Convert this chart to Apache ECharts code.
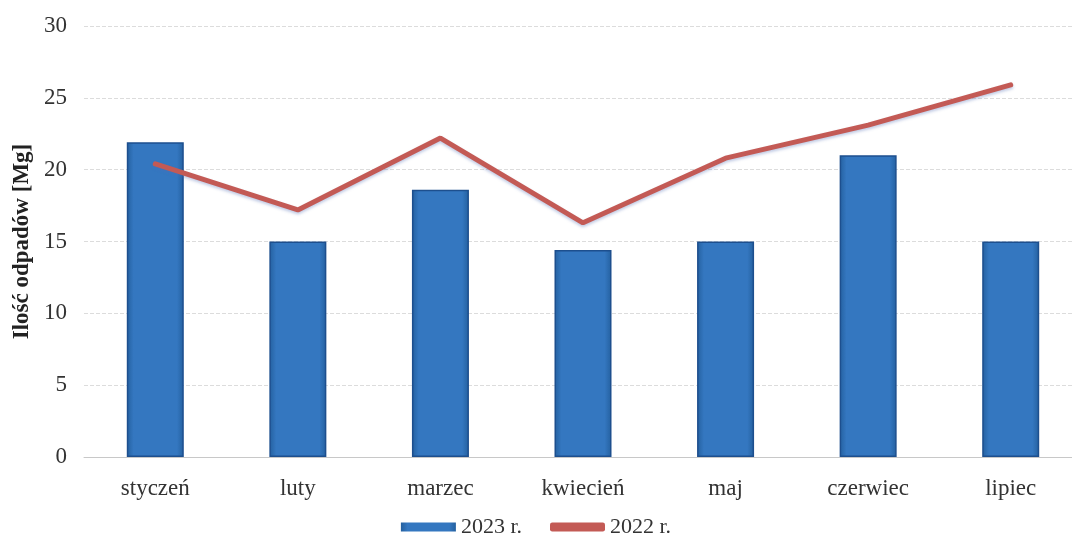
<!DOCTYPE html>
<html>
<head>
<meta charset="utf-8">
<script src="https://cdn.jsdelivr.net/npm/echarts@6/dist/echarts.min.js"></script>
<style>
  html, body { margin: 0; padding: 0; background: #fff; }
  #chart { width: 1072px; height: 547px; }
</style>
</head>
<body>
<div id="chart"></div>
<script>
  // dane
  var months = ['styczeń', 'luty', 'marzec', 'kwiecień', 'maj', 'czerwiec', 'lipiec'];
  var values2023 = [21.9, 15.0, 18.6, 14.4, 15.0, 21.0, 15.0];
  var values2022 = [20.4, 17.2, 22.2, 16.3, 20.8, 23.1, 25.9];
  var yTicks = [0, 30, 5];

  var font = 'Liberation Serif, Times New Roman, serif';
  var chart = echarts.init(document.getElementById('chart'));

  var option = {
    backgroundColor: '#fff',
    animation: false,
    textStyle: { fontFamily: font },
    grid: { left: 84, top: 26, width: 998, bottom: 90, containLabel: false, outerBoundsMode: 'none' },
    legend: {
      bottom: 4,
      left: 'center',
      itemGap: 28,
      itemWidth: 55,
      itemHeight: 9,
      itemStyle: { borderWidth: 0 },
      textStyle: { fontFamily: font, fontSize: 22, color: '#333' },
      data: [
        { name: '2023 r.', icon: 'rect' },
        { name: '2022 r.', icon: 'roundRect' }
      ]
    },
    xAxis: {
      type: 'category',
      data: months,
      axisLine: { lineStyle: { color: '#c8c8c8' } },
      axisTick: { show: false },
      axisLabel: { fontFamily: font, fontSize: 23, color: '#333', margin: 20 }
    },
    yAxis: {
      type: 'value',
      min: yTicks[0],
      max: yTicks[1],
      interval: yTicks[2],
      name: 'Ilość odpadów [Mg]',
      nameLocation: 'middle',
      nameGap: 50,
      nameTextStyle: { fontFamily: font, fontSize: 23, fontWeight: 'bold', color: '#222' },
      axisLine: { show: false },
      axisTick: { show: false },
      axisLabel: { fontFamily: font, fontSize: 23, color: '#333', margin: 17 },
      splitLine: { lineStyle: { color: '#dcdcdc', type: [4, 2] } }
    },
    series: [
      {
        name: '2023 r.',
        type: 'bar',
        data: values2023,
        barWidth: 57,
        itemStyle: {
          color: new echarts.graphic.LinearGradient(0, 0, 1, 0, [
            { offset: 0, color: '#24609f' },
            { offset: 0.12, color: '#3477c0' },
            { offset: 0.88, color: '#3477c0' },
            { offset: 1, color: '#24609f' }
          ]),
          borderColor: '#1d4f8e',
          borderWidth: 1.5
        }
      },
      {
        name: '2022 r.',
        type: 'line',
        data: values2022,
        symbol: 'none',
        z: 5,
        lineStyle: {
          color: '#c35a55',
          width: 5,
          cap: 'round',
          shadowColor: 'rgba(80,110,180,0.35)',
          shadowBlur: 3,
          shadowOffsetY: 2
        },
        itemStyle: { color: '#c35a55' }
      }
    ]
  };

  chart.setOption(option);
  window.addEventListener('resize', function () { chart.resize(); });
</script>
</body>
</html>
